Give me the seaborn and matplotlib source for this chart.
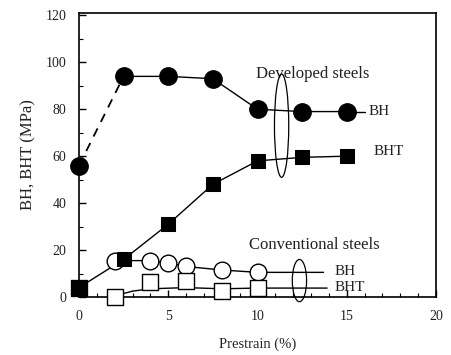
import matplotlib
matplotlib.use("Agg")
import matplotlib.pyplot as plt
from matplotlib.patches import Ellipse
from matplotlib.ticker import MultipleLocator
import seaborn as sns
import pandas as pd

# ---- data ----
dev_bh_x = [0, 2.5, 5, 7.5, 10, 12.5, 15]
dev_bh_y = [56, 94, 94, 93, 80, 79, 79]
dev_bht_x = [0, 2.5, 5, 7.5, 10, 12.5, 15]
dev_bht_y = [4, 16, 31, 48, 58, 59.5, 60]
conv_bh_x = [2, 4, 5, 6, 8, 10]
conv_bh_y = [15.5, 15.5, 14.5, 13, 11.5, 10.5]
conv_bht_x = [2, 4, 6, 8, 10]
conv_bht_y = [0, 6.5, 7, 2.5, 4]
conv_bht_trend_x = [2, 3, 4, 6, 8, 10]
conv_bht_trend_y = [0.5, 2.5, 3.5, 4, 3.5, 3.8]

label_dev = "Developed steels"
label_conv = "Conventional steels"
xlabel = "Prestrain (%)"
ylabel = "BH, BHT (MPa)"
xticks = [0, 5, 10, 15, 20]
yticks = [0, 20, 40, 60, 80, 100, 120]

sns.set_style("ticks")
plt.rcParams['font.family'] = ['Liberation Serif', 'DejaVu Serif']

fig = plt.figure(figsize=(4.51, 3.55), dpi=100)
ax = fig.add_axes([79/451, 58/355, (436-79)/451, (297-13)/355])

txt = '#222222'
k = 'black'

# developed BH: dashed first segment, solid rest
sns.lineplot(x=dev_bh_x[:2], y=dev_bh_y[:2], ax=ax, color=k, lw=1.3,
             linestyle=(0, (5, 4)), sort=False)
sns.lineplot(x=dev_bh_x[1:], y=dev_bh_y[1:], ax=ax, color=k, lw=1.0, sort=False)
sns.lineplot(x=[dev_bh_x[-1], 16.0], y=[dev_bh_y[-1], dev_bh_y[-1]], ax=ax,
             color=k, lw=1.0, sort=False)
sns.scatterplot(x=dev_bh_x, y=dev_bh_y, ax=ax, marker='o', s=12.5**2,
                color=k, edgecolor=k, zorder=5, clip_on=False)

# developed BHT
sns.lineplot(x=dev_bht_x, y=dev_bht_y, ax=ax, color=k, lw=1.0, sort=False)
sns.scatterplot(x=dev_bht_x[:1], y=dev_bht_y[:1], ax=ax, marker='s', s=12**2,
                color=k, edgecolor=k, zorder=5, clip_on=False)
sns.scatterplot(x=dev_bht_x[1:], y=dev_bht_y[1:], ax=ax, marker='s', s=9.5**2,
                color=k, edgecolor=k, zorder=5, clip_on=False)

# conventional BH
sns.lineplot(x=conv_bh_x + [13.7], y=conv_bh_y + [conv_bh_y[-1]], ax=ax,
             color=k, lw=1.0, sort=False)
sns.scatterplot(x=conv_bh_x, y=conv_bh_y, ax=ax, marker='o', s=12**2,
                facecolor='white', edgecolor=k, linewidth=1.0, zorder=4,
                clip_on=False)

# conventional BHT
sns.lineplot(x=conv_bht_trend_x + [13.9], y=conv_bht_trend_y + [conv_bht_trend_y[-1]],
             ax=ax, color=k, lw=1.0, sort=False)
sns.scatterplot(x=conv_bht_x, y=conv_bht_y, ax=ax, marker='s', s=11**2,
                facecolor='white', edgecolor=k, linewidth=1.0, zorder=4,
                clip_on=False)

# grouping loops
ax.add_patch(Ellipse((11.35, 73), 0.8, 44, fill=False, ec=k, lw=0.9, zorder=6))
ax.add_patch(Ellipse((12.35, 7), 0.8, 18, fill=False, ec=k, lw=0.9, zorder=6,
                     clip_on=False))

# annotations
ax.text(13.1, 95, label_dev, ha='center', va='center', fontsize=12, color=txt)
ax.text(16.2, dev_bh_y[-1], "BH", ha='left', va='center', fontsize=11, color=txt)
ax.text(16.5, dev_bht_y[-1] + 2, "BHT", ha='left', va='center', fontsize=11, color=txt)
ax.text(13.2, 22, label_conv, ha='center', va='center', fontsize=12, color=txt)
ax.text(14.3, 10.8, "BH", ha='left', va='center', fontsize=11, color=txt)
ax.text(14.3, 3.9, "BHT", ha='left', va='center', fontsize=11, color=txt)

ax.set_xlim(0, 20)
ax.set_ylim(0, 121)
ax.set_xticks(xticks)
ax.set_yticks(yticks)
ax.xaxis.set_minor_locator(MultipleLocator(1))
ax.yaxis.set_minor_locator(MultipleLocator(10))
ax.tick_params(which='both', direction='in', top=False, right=False,
               labelsize=10, labelcolor=txt, color=k, pad=9)
ax.tick_params(which='major', length=5, width=1.0)
ax.tick_params(which='minor', length=3, width=0.8)
for sp in ax.spines.values():
    sp.set_visible(True)
    sp.set_linewidth(1.2)
    sp.set_color(k)
ax.set_xlabel(xlabel, fontsize=10.5, color=txt, labelpad=11)
ax.set_ylabel(ylabel, fontsize=12, color=txt, labelpad=7)

fig.savefig("out.png", dpi=100)
